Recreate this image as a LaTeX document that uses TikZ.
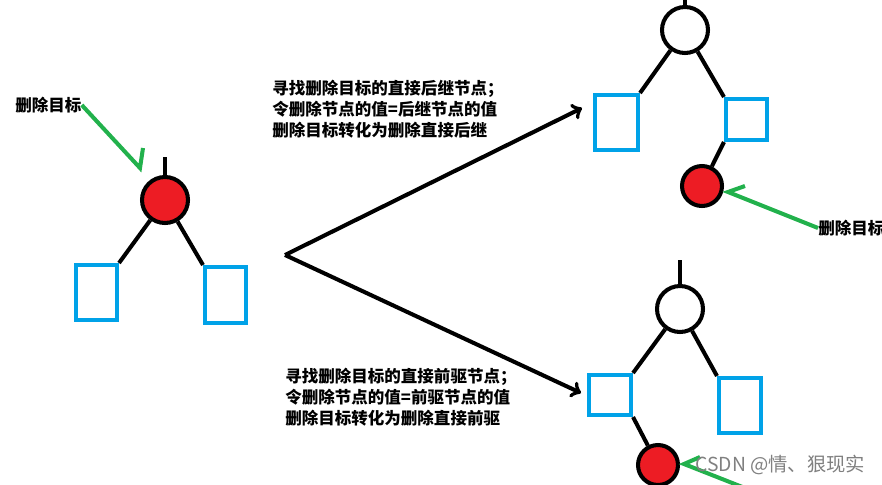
\documentclass[tikz,border=0pt]{standalone}
\usepackage{fontspec}
\setmainfont{Noto Sans CJK SC}
\definecolor{paintred}{RGB}{237,28,36}
\definecolor{paintblue}{RGB}{0,162,232}
\definecolor{paintgreen}{RGB}{34,177,76}
\begin{document}
\begin{tikzpicture}[x=0.02cm, y=-0.02cm]
        \tikzstyle{blk} = [draw, black, line width=2.3pt]
        \tikzstyle{grn} = [draw, paintgreen, line width=2.3pt]
        \tikzstyle{redball} = [circle, draw, line width=2.3pt, fill=paintred, inner sep=0pt]
        \tikzstyle{whiteball} = [circle, draw, line width=2.3pt, fill=white, inner sep=0pt, minimum size=0.92cm]
        \tikzstyle{leaf} = [rectangle, draw=paintblue, line width=2.3pt, inner sep=0pt]
        \tikzstyle{txt} = [inner sep=0pt, font=\bfseries\fontsize{9.4}{11.9}\selectfont]
        \useasboundingbox (0, 0) rectangle (882, 484);

        \node[txt, anchor=west] (lbl1) at (15, 105) {删除目标};
        \node[txt, anchor=west] (lbl2) at (818, 228) {删除目标};
        \node[txt, anchor=north west, align=left] (note1) at (272, 80) {寻找删除目标的直接后继节点；\\令删除节点的值=后继节点的值\\删除目标转化为删除直接后继};
        \node[txt, anchor=north west, align=left] (note2) at (285, 368) {寻找删除目标的直接前驱节点；\\令删除节点的值=前驱节点的值\\删除目标转化为删除直接前驱};

        \node[redball, minimum size=0.92cm] (c1) at (165, 200) {};
        \node[leaf, minimum width=0.82cm, minimum height=1.1cm] (s1) at (96.5, 292.5) {};
        \node[leaf, minimum width=0.82cm, minimum height=1.12cm] (s2) at (225.5, 295) {};
        \coordinate (top1) at (165, 157);

        \node[whiteball] (c2) at (685, 30) {};
        \node[leaf, minimum width=0.86cm, minimum height=1.1cm] (s3) at (616.5, 122.5) {};
        \node[leaf, minimum width=0.82cm, minimum height=0.82cm] (s4) at (746.5, 119.5) {};
        \node[redball, minimum size=0.8cm] (c3) at (702, 186) {};
        \coordinate (top2) at (685, -2);

        \node[whiteball] (c4) at (680, 309) {};
        \node[leaf, minimum width=0.84cm, minimum height=0.8cm] (s5) at (610, 395) {};
        \node[leaf, minimum width=0.84cm, minimum height=1.1cm] (s6) at (740, 405.5) {};
        \node[redball, minimum size=0.8cm] (c5) at (658, 465) {};
        \coordinate (top3) at (680, 260);

        \coordinate (fork) at (285, 255);
        \coordinate (succ) at (582, 108);
        \coordinate (pred) at (581, 393);
        \coordinate (tip1) at (140, 168);
        \coordinate (hook1) at (143, 148);
        \coordinate (tip2) at (728, 192);
        \coordinate (hook2) at (745, 186);
        \coordinate (tail3) at (750, 490);
        \coordinate (tip3) at (684, 464);
        \coordinate (hook3) at (700, 457);

        \path[blk] (top1) to (c1.north);
        \path[blk] (c1) to (s1.north east);
        \path[blk] (c1) to (s2.north west);
        \path[blk] (top2) to (c2.north);
        \path[blk] (c2) to (s3.north east);
        \path[blk] (c2) to (s4.north west);
        \path[blk] (s4.south west) to (c3);
        \path[blk] (top3) to (c4.north);
        \path[blk] (c4) to (s5.north east);
        \path[blk] (c4) to (s6.north west);
        \path[blk] (s5.south east) to (c5);

        \path[blk, ->] (fork) to (succ);
        \path[blk, ->] (fork) to (pred);

        \path[grn] (lbl1.east) to (tip1) to (hook1);
        \path[grn] (lbl2.west) to (tip2) to (hook2);
        \path[grn] (tail3) to (tip3) to (hook3);

        \node[anchor=west, inner sep=0pt, text=gray, font=\fontsize{11}{13}\selectfont] (mark) at (695, 465) {CSDN @情、狠现实};
    \end{tikzpicture}
\end{document}
